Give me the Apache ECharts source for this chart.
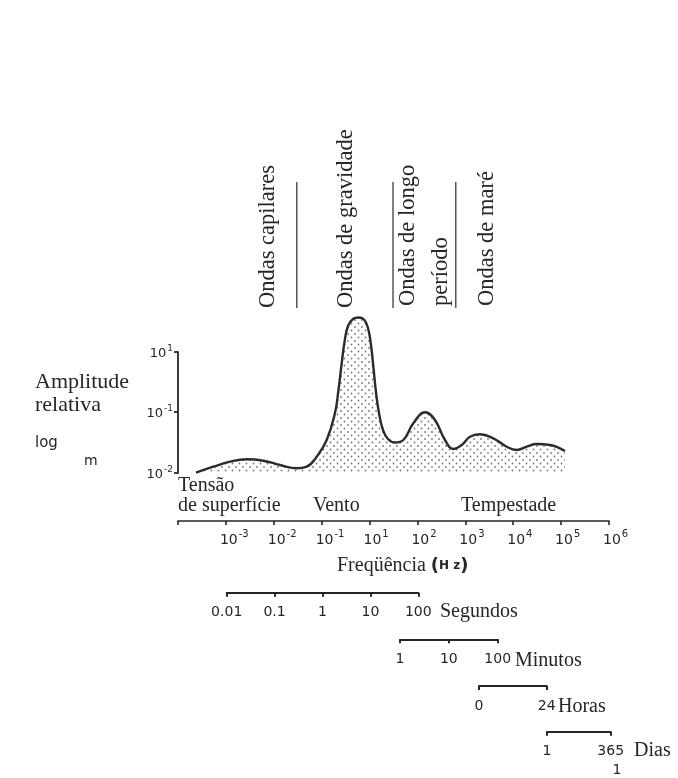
<!DOCTYPE html>
<html>
<head>
<meta charset="utf-8">
<script src="https://cdn.jsdelivr.net/npm/echarts@6/dist/echarts.min.js"></script>
<style>
  html, body { margin: 0; padding: 0; background: #ffffff; }
  #chart { width: 678px; height: 778px; }
</style>
</head>
<body>
<div id="chart"></div>
<script>
// Frequency scale: one tick per decade (index -> printed label). 10^0 is not printed on this scale.
const freqTickLabels = ['', '10^-3', '10^-2', '10^-1', '10^1', '10^2', '10^3', '10^4', '10^5', '10^6'];

// Energy spectrum of ocean waves: position on the frequency scale (decade index) and relative height
const spectrumX = [0.376, 0.737, 1.086, 1.434, 1.781, 2.130, 2.479, 2.687, 2.896, 3.105,
                   3.278, 3.351, 3.414, 3.477, 3.550, 3.654, 3.769, 3.884, 3.967, 4.030,
                   4.082, 4.134, 4.197, 4.281, 4.385, 4.531, 4.705, 4.914, 5.158, 5.366,
                   5.575, 5.749, 5.924, 6.097, 6.306, 6.584, 6.864, 7.072, 7.281, 7.490,
                   7.768, 8.081];
const spectrumH = [0.3, 6.3, 11.3, 13.7, 12.3, 8, 4.7, 6.3, 16.3, 33,
                   60, 83, 108, 131, 147, 154, 155.5, 153.5, 145, 128,
                   105, 81, 60, 43, 34, 30.5, 33, 49.7, 60.7, 53,
                   33, 24, 28, 36.3, 38.7, 34.7, 26.3, 23, 26.3, 29,
                   28, 22];

// Amplitude axis (log m): tick heights and their labels
const ampTickValues = [0, 61, 121];
const ampTickLabels = ['10^-2', '10^-1', '10^1'];

// Period scales
const secondsLabels = ['0.01', '0.1', '1', '10', '100'];
const minutesLabels = ['1', '10', '100'];
const hoursLabels = ['0', '24'];
const daysLabels = ['1', '365'];

// Boundaries between wave types on the frequency scale
const bandEdges = [2.48, 4.49, 5.80];

const INK = '#262626';
const SERIF = "'Liberation Serif', 'DejaVu Serif', serif";
const SANS = "'DejaVu Sans', 'Noto Sans', sans-serif";

function supText(lbl) {
  if (!lbl) return '';
  const parts = lbl.split('^');
  return parts.length > 1 ? '{b|' + parts[0] + '}{s|' + parts[1] + '}' : '{b|' + parts[0] + '}';
}

// Stippled fill under the spectrum curve
function dotPattern() {
  const c = document.createElement('canvas');
  c.width = 7; c.height = 7;
  const g = c.getContext('2d');
  g.fillStyle = '#7a7a7a';
  g.beginPath(); g.arc(1.5, 1.5, 0.9, 0, Math.PI * 2); g.fill();
  g.beginPath(); g.arc(5, 5, 0.9, 0, Math.PI * 2); g.fill();
  return c;
}

const periodAxis = (gridIndex, labels) => ({
  type: 'category', gridIndex, data: labels, boundaryGap: false,
  axisLine: { show: true, lineStyle: { color: INK, width: 2 } },
  axisTick: { show: true, length: 4, interval: 0, lineStyle: { color: INK, width: 2 } },
  axisLabel: { interval: 0, margin: 13, fontFamily: SANS, fontSize: 14, color: INK },
  splitLine: { show: false }
});
const hiddenY = (gridIndex) => ({ type: 'value', gridIndex, show: false, min: 0, max: 1 });

const chart = echarts.init(document.getElementById('chart'), null, { renderer: 'canvas' });

chart.setOption({
  animation: false,
  backgroundColor: '#ffffff',
  grid: [
    { left: 178, right: 69, top: 352, bottom: 305, outerBoundsMode: 'none' },       // spectrum
    { left: 172, right: 75, top: 500, bottom: 257, outerBoundsMode: 'none' },       // frequency labels
    { left: 226.7, right: 259.7, top: 580, bottom: 185.3, outerBoundsMode: 'none' }, // seconds
    { left: 400, right: 180.3, top: 630, bottom: 138.7, outerBoundsMode: 'none' },   // minutes
    { left: 479, right: 131.3, top: 676, bottom: 92, outerBoundsMode: 'none' },      // hours
    { left: 547, right: 67.3, top: 722, bottom: 46.3, outerBoundsMode: 'none' }      // days
  ],
  xAxis: [
    { type: 'value', gridIndex: 0, min: 0, max: 9, show: false },
    {
      type: 'value', gridIndex: 0, min: 0, max: 9, interval: 1, position: 'bottom', offset: 48,
      axisLine: { show: true, lineStyle: { color: INK, width: 1.6 } },
      axisTick: { show: true, length: 4, lineStyle: { color: INK, width: 1.6 } },
      axisLabel: { show: false }, splitLine: { show: false }
    },
    {
      type: 'value', gridIndex: 1, min: 0, max: 9, interval: 1,
      axisLine: { show: false }, axisTick: { show: false }, splitLine: { show: false },
      axisLabel: {
        align: 'left', margin: 7, showMinLabel: true, showMaxLabel: true, hideOverlap: false,
        formatter: (v) => supText(freqTickLabels[Math.round(v)]),
        rich: {
          b: { fontFamily: SANS, fontSize: 14, color: INK, padding: [5, 0, 0, 0] },
          s: { fontFamily: SANS, fontSize: 10, color: INK, padding: [0, 0, 7, 1] }
        }
      }
    },
    periodAxis(2, secondsLabels),
    periodAxis(3, minutesLabels),
    periodAxis(4, hoursLabels),
    periodAxis(5, daysLabels)
  ],
  yAxis: [
    {
      type: 'value', gridIndex: 0, min: 0, max: 121,
      axisLine: { show: true, lineStyle: { color: INK, width: 1.8 } },
      axisTick: { show: true, length: 4, customValues: ampTickValues, lineStyle: { color: INK, width: 1.8 } },
      splitLine: { show: false },
      axisLabel: {
        customValues: ampTickValues, margin: 5,
        formatter: (v) => supText(ampTickLabels[ampTickValues.indexOf(v)]),
        rich: {
          b: { fontFamily: SANS, fontSize: 13, color: INK, padding: [4, 0, 0, 0] },
          s: { fontFamily: SANS, fontSize: 9, color: INK, padding: [0, 0, 7, 1] }
        }
      }
    },
    hiddenY(1), hiddenY(2), hiddenY(3), hiddenY(4), hiddenY(5)
  ],
  series: [{
    type: 'line', xAxisIndex: 0, yAxisIndex: 0,
    data: spectrumX.map((x, i) => [x, spectrumH[i]]),
    smooth: 0.45, showSymbol: false, clip: false,
    lineStyle: { color: '#2b2b2b', width: 2.4 },
    areaStyle: { origin: 'start', color: { image: dotPattern(), repeat: 'repeat' }, opacity: 1 }
  }]
});

// Wave type headings and separators above the spectrum
const px = (v) => chart.convertToPixel({ xAxisIndex: 0 }, v);
const vText = (text, x, yBottom) => ({
  type: 'text', x, y: yBottom, rotation: Math.PI / 2,
  style: { text, font: '22.5px ' + SERIF, fill: INK, align: 'left', verticalAlign: 'middle' }
});
const hText = (text, x, y, size, font, align) => ({
  type: 'text', x, y,
  style: { text, font: (size || 20) + 'px ' + (font || SERIF), fill: INK, align: align || 'left', verticalAlign: 'middle' }
});

const graphics = [
  vText('Ondas capilares', 268, 308),
  vText('Ondas de gravidade', 346, 308),
  vText('Ondas de longo', 408, 306),
  vText('período', 441, 306),
  vText('Ondas de maré', 487, 306),
  ...bandEdges.map((e) => ({
    type: 'line', shape: { x1: px(e), y1: 182, x2: px(e), y2: 308 },
    style: { stroke: '#555', lineWidth: 1.5 }
  })),
  hText('Amplitude', 35, 382, 22),
  hText('relativa', 35, 405, 22),
  hText('log', 35, 443, 15, SANS),
  hText('m', 84, 461, 14, SANS),
  hText('Tensão', 178, 486),
  hText('de superfície', 178, 506),
  hText('Vento', 313, 506),
  hText('Tempestade', 461, 506),
  {
    type: 'text', x: 337, y: 566,
    style: {
      text: '{t|Freqüência }{p|(}{h|H z}{p|)}', fill: INK, align: 'left', verticalAlign: 'middle',
      rich: {
        t: { font: '20px ' + SERIF, fill: INK },
        p: { font: 'bold 18px ' + SANS, fill: INK },
        h: { font: 'bold 12px ' + SANS, fill: INK }
      }
    }
  },
  hText('Segundos', 440, 612),
  hText('Minutos', 515, 661),
  hText('Horas', 558, 707),
  hText('Dias', 634, 751),
  hText('1', 617, 770, 14, SANS, 'center')
];

chart.setOption({ graphic: { elements: graphics } });
</script>
</body>
</html>
